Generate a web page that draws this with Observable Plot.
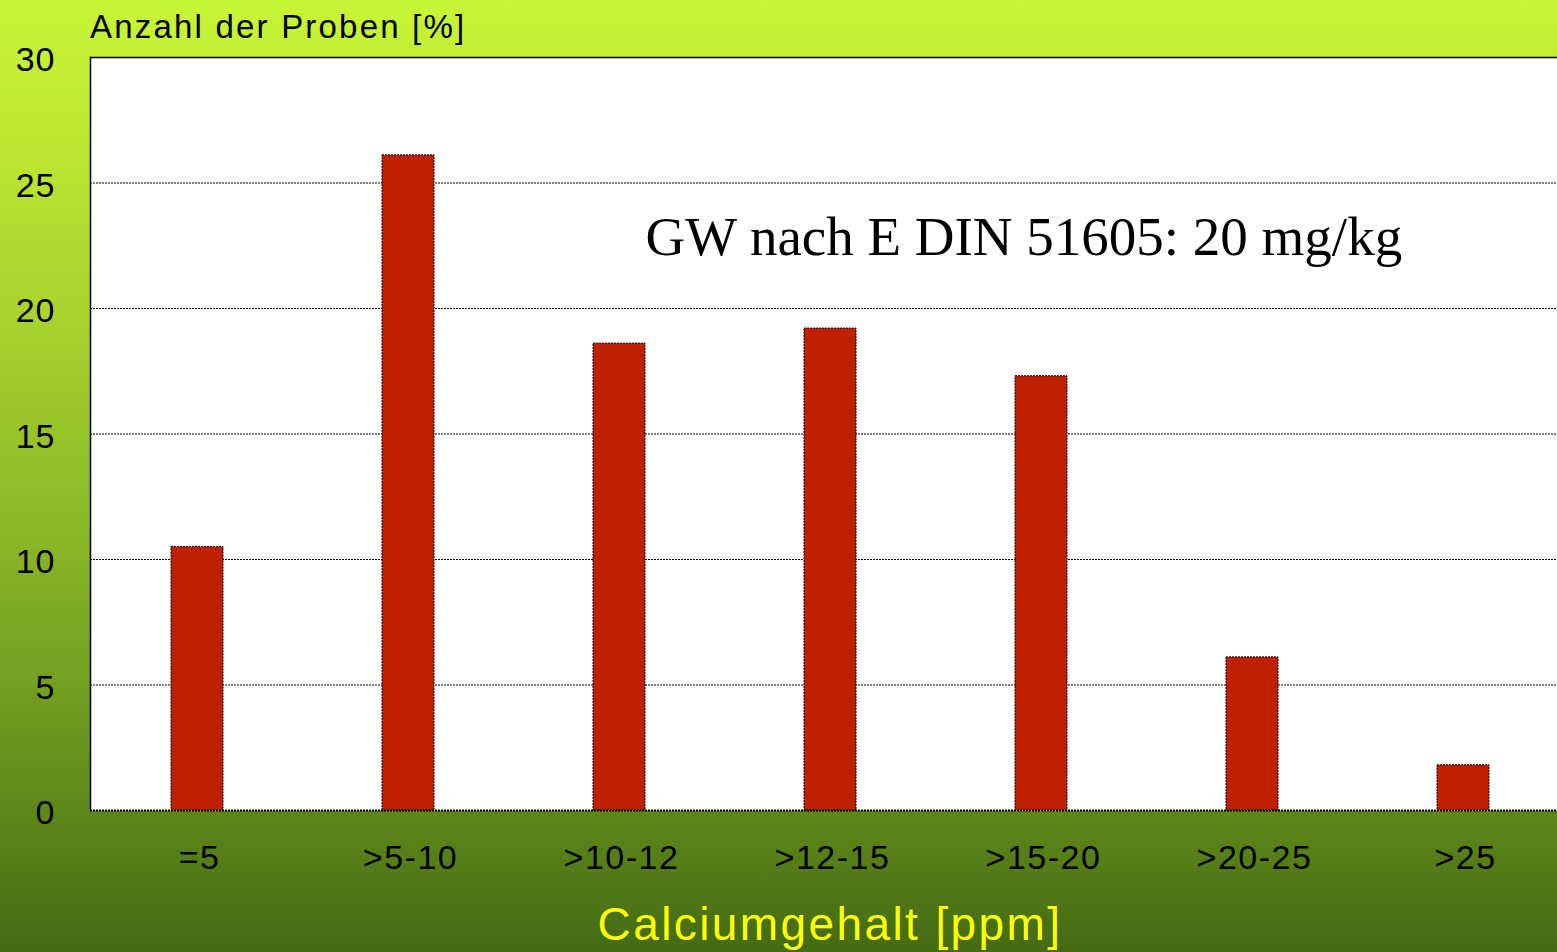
<!DOCTYPE html>
<html>
<head>
<meta charset="utf-8">
<script src="https://cdn.jsdelivr.net/npm/d3@7"></script>
<script src="https://cdn.jsdelivr.net/npm/@observablehq/plot@0.6"></script>
<style>
  html, body { margin: 0; padding: 0; }
  #wrap {
    position: relative; width: 1557px; height: 952px; overflow: hidden;
    background: linear-gradient(to bottom, #c8f536 0%, #bde733 15%, #a6d02e 35%, #8cb828 55%, #6f9a20 75%, #5a8219 88%, #446a14 100%);
    font-family: "Liberation Sans", Arial, sans-serif;
  }
  #title { position: absolute; left: 90px; top: 8px; font-size: 33px; letter-spacing: 2.2px; color: #000; white-space: nowrap; }
  #xlabel { position: absolute; left: 0; width: 1660px; text-align: center; top: 897px; font-size: 46px; letter-spacing: 2.4px; color: #ffff00; white-space: nowrap; }
  #chart { position: absolute; left: 0; top: 0; }
  #chart svg g[aria-label="x-axis tick label"] text { letter-spacing: 1.5px; }
  #chart svg g[aria-label="y-axis tick label"] text { letter-spacing: 1px; }
</style>
</head>
<body>
<div id="wrap">
  <div id="chart"></div>
  <div id="title">Anzahl der Proben [%]</div>
  <div id="xlabel">Calciumgehalt [ppm]</div>
</div>
<script>
const categories = ["=5", ">5-10", ">10-12", ">12-15", ">15-20", ">20-25", ">25"];
const values = [10.5, 26.1, 18.6, 19.2, 17.3, 6.1, 1.8];
const yTicks = [0, 5, 10, 15, 20, 25, 30];
const annotation = "GW nach E DIN 51605: 20 mg/kg";

const data = categories.map((c, i) => ({cat: c, val: values[i]}));

const chart = Plot.plot({
  width: 1557,
  height: 952,
  marginLeft: 90,
  marginRight: 0,
  marginTop: 57,
  marginBottom: 142,
  style: {background: "transparent", fontFamily: "Liberation Sans, Arial, sans-serif", overflow: "hidden"},
  x: {domain: categories, range: [90, 1569.6], paddingInner: 0.754, paddingOuter: 0.377, label: null},
  y: {domain: [0, 30], label: null},
  marks: [
    Plot.frame({fill: "white", stroke: "none"}),
    Plot.gridY(yTicks, {stroke: "#000", strokeOpacity: 1, strokeDasharray: "2,1", strokeWidth: 1.2}),
    Plot.frame({anchor: "left", stroke: "#000", strokeDasharray: "2,1", strokeWidth: 1.5}),
    Plot.frame({anchor: "top", stroke: "#000", strokeDasharray: "2,1", strokeWidth: 1.5}),
    Plot.ruleY([0], {stroke: "#000", strokeDasharray: "2,1", strokeWidth: 1.8}),
    Plot.barY(data, {x: "cat", y: "val", fill: "#bf2000", stroke: "#000", strokeDasharray: "2,1", strokeWidth: 1}),
    Plot.axisY(yTicks, {tickSize: 0, tickPadding: 35, fontSize: 34, dy: 3, fill: "#000", label: null}),
    Plot.axisX({tickSize: 0, tickPadding: 34, fontSize: 34, dx: 2, fill: "#000", label: null}),
    Plot.text([annotation], {frameAnchor: "top-left", dx: 555, dy: 180, textAnchor: "start", lineAnchor: "middle", fontSize: 55, fontFamily: "Liberation Serif, Times New Roman, serif", fill: "#000"})
  ]
});
document.getElementById("chart").appendChild(chart);
</script>
</body>
</html>
